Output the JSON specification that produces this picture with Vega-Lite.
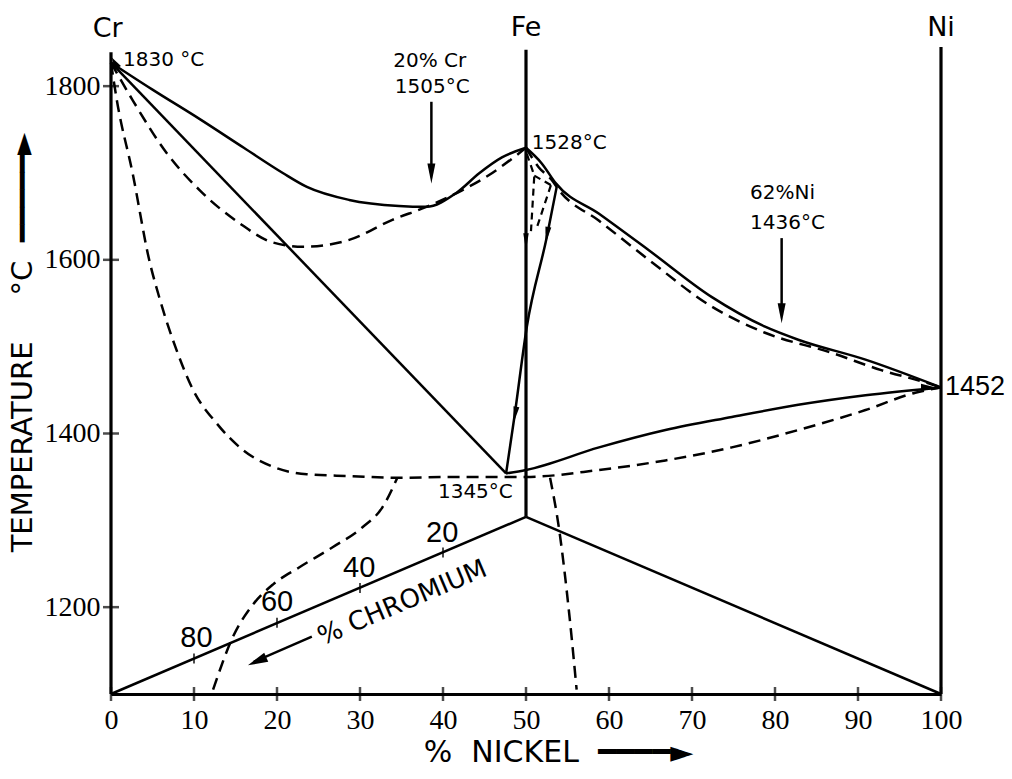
{
  "$schema": "https://vega.github.io/schema/vega-lite/v6.json",
  "width": 830,
  "height": 686,
  "autosize": {"type": "none"},
  "padding": {"left": 111, "top": 8, "right": 71, "bottom": 85},
  "background": "white",
  "config": {"view": {"stroke": null}, "axis": {"grid": false}},
  "datasets": {
    "frame": [
      {"s": "Cr", "i": 1, "x": 0, "t": 1100}, {"s": "Cr", "i": 2, "x": 0, "t": 1839},
      {"s": "Fe", "i": 3, "x": 50, "t": 1304}, {"s": "Fe", "i": 4, "x": 50, "t": 1842},
      {"s": "Ni", "i": 5, "x": 100, "t": 1100}, {"s": "Ni", "i": 6, "x": 100, "t": 1845}
    ],
    "solidLines": [
      {"s": "L4", "i": 1, "x": 0, "t": 1827}, {"s": "L4", "i": 2, "x": 47.6, "t": 1354},
      {"s": "L5", "i": 3, "x": 0, "t": 1100}, {"s": "L5", "i": 4, "x": 50, "t": 1304},
      {"s": "L6", "i": 5, "x": 50, "t": 1304}, {"s": "L6", "i": 6, "x": 100, "t": 1100},
      {"s": "L7", "i": 7, "x": 38.6, "t": 1782}, {"s": "L7", "i": 8, "x": 38.6, "t": 1700},
      {"s": "L8", "i": 9, "x": 80.8, "t": 1625}, {"s": "L8", "i": 10, "x": 80.8, "t": 1537},
      {"s": "L9", "i": 11, "x": 24.2, "t": 1166}, {"s": "L9", "i": 12, "x": 17.2, "t": 1137}
    ],
    "solidCurves": [
      {"s": "C1", "i": 1, "x": 0, "t": 1827}, {"s": "C1", "i": 2, "x": 5, "t": 1796},
      {"s": "C1", "i": 3, "x": 10.7, "t": 1762}, {"s": "C1", "i": 4, "x": 16, "t": 1729},
      {"s": "C1", "i": 5, "x": 20.7, "t": 1700}, {"s": "C1", "i": 6, "x": 23.6, "t": 1684},
      {"s": "C1", "i": 7, "x": 28.7, "t": 1669}, {"s": "C1", "i": 8, "x": 34.7, "t": 1662},
      {"s": "C1", "i": 9, "x": 38.0, "t": 1661}, {"s": "C1", "i": 10, "x": 41.6, "t": 1677},
      {"s": "C1", "i": 11, "x": 44.4, "t": 1700}, {"s": "C1", "i": 12, "x": 47.1, "t": 1718},
      {"s": "C1", "i": 13, "x": 50, "t": 1729},
      {"s": "C2", "i": 14, "x": 50, "t": 1729}, {"s": "C2", "i": 15, "x": 51.9, "t": 1711},
      {"s": "C2", "i": 16, "x": 53.6, "t": 1688},
      {"s": "C2", "i": 18, "x": 58.8, "t": 1653}, {"s": "C2", "i": 19, "x": 64.8, "t": 1611},
      {"s": "C2", "i": 20, "x": 72.4, "t": 1557}, {"s": "C2", "i": 21, "x": 78.8, "t": 1523},
      {"s": "C2", "i": 22, "x": 82.8, "t": 1508}, {"s": "C2", "i": 23, "x": 90.9, "t": 1485},
      {"s": "C2", "i": 24, "x": 100, "t": 1453},
      {"s": "C3", "i": 25, "x": 47.6, "t": 1354}, {"s": "C3", "i": 26, "x": 50, "t": 1358},
      {"s": "C3", "i": 27, "x": 58.8, "t": 1384}, {"s": "C3", "i": 28, "x": 66.8, "t": 1404},
      {"s": "C3", "i": 29, "x": 74.8, "t": 1419}, {"s": "C3", "i": 30, "x": 82.8, "t": 1433},
      {"s": "C3", "i": 31, "x": 90.9, "t": 1444}, {"s": "C3", "i": 32, "x": 100, "t": 1453},
      {"s": "C4", "i": 33, "x": 47.6, "t": 1354}, {"s": "C4", "i": 34, "x": 48.6, "t": 1419},
      {"s": "C4", "i": 35, "x": 50.1, "t": 1523}, {"s": "C4", "i": 36, "x": 52.5, "t": 1626},
      {"s": "C4", "i": 37, "x": 53.7, "t": 1684}
    ],
    "dashCurves": [
      {"s": "D1", "i": 1, "x": 0, "t": 1827}, {"s": "D1", "i": 2, "x": 2.6, "t": 1784},
      {"s": "D1", "i": 3, "x": 6.7, "t": 1723}, {"s": "D1", "i": 4, "x": 10.7, "t": 1680},
      {"s": "D1", "i": 5, "x": 15.5, "t": 1642}, {"s": "D1", "i": 6, "x": 19.5, "t": 1620},
      {"s": "D1", "i": 7, "x": 23.1, "t": 1615}, {"s": "D1", "i": 8, "x": 28.7, "t": 1623},
      {"s": "D1", "i": 9, "x": 33.9, "t": 1646}, {"s": "D1", "i": 10, "x": 38.0, "t": 1661},
      {"s": "D1", "i": 11, "x": 42.3, "t": 1680}, {"s": "D1", "i": 12, "x": 45.6, "t": 1698},
      {"s": "D1", "i": 13, "x": 49.2, "t": 1723}, {"s": "D1", "i": 14, "x": 50, "t": 1729},
      {"s": "D2", "i": 15, "x": 0, "t": 1827}, {"s": "D2", "i": 16, "x": 0.7, "t": 1784},
      {"s": "D2", "i": 17, "x": 2.6, "t": 1700}, {"s": "D2", "i": 18, "x": 4.6, "t": 1600},
      {"s": "D2", "i": 19, "x": 5.9, "t": 1554}, {"s": "D2", "i": 20, "x": 7.9, "t": 1496},
      {"s": "D2", "i": 21, "x": 9.9, "t": 1450}, {"s": "D2", "i": 22, "x": 12.7, "t": 1412},
      {"s": "D2", "i": 23, "x": 15.9, "t": 1381}, {"s": "D2", "i": 24, "x": 20.0, "t": 1360},
      {"s": "D2", "i": 25, "x": 23.6, "t": 1353}, {"s": "D2", "i": 26, "x": 28.7, "t": 1351},
      {"s": "D2", "i": 27, "x": 34.7, "t": 1349}, {"s": "D2", "i": 28, "x": 40.7, "t": 1350},
      {"s": "D2", "i": 29, "x": 47.7, "t": 1350}, {"s": "D2", "i": 30, "x": 50, "t": 1350},
      {"s": "D2", "i": 31, "x": 58.8, "t": 1358}, {"s": "D2", "i": 32, "x": 66.8, "t": 1369},
      {"s": "D2", "i": 33, "x": 74.8, "t": 1384}, {"s": "D2", "i": 34, "x": 82.8, "t": 1404},
      {"s": "D2", "i": 35, "x": 90.9, "t": 1427}, {"s": "D2", "i": 36, "x": 96.9, "t": 1447},
      {"s": "D2", "i": 37, "x": 100, "t": 1453},
      {"s": "D3", "i": 38, "x": 12.3, "t": 1105}, {"s": "D3", "i": 39, "x": 14.7, "t": 1166},
      {"s": "D3", "i": 40, "x": 17.1, "t": 1203}, {"s": "D3", "i": 41, "x": 19.5, "t": 1226},
      {"s": "D3", "i": 42, "x": 22.7, "t": 1246}, {"s": "D3", "i": 43, "x": 26.7, "t": 1269},
      {"s": "D3", "i": 44, "x": 30.3, "t": 1292}, {"s": "D3", "i": 45, "x": 32.7, "t": 1315},
      {"s": "D3", "i": 46, "x": 34.5, "t": 1349},
      {"s": "D4", "i": 48, "x": 52.9, "t": 1349}, {"s": "D4", "i": 49, "x": 54.0, "t": 1289},
      {"s": "D4", "i": 50, "x": 55.2, "t": 1193}, {"s": "D4", "i": 51, "x": 56.1, "t": 1105},
      {"s": "D5", "i": 52, "x": 50, "t": 1729}, {"s": "D5", "i": 53, "x": 51.5, "t": 1707},
      {"s": "D5", "i": 54, "x": 53.1, "t": 1692}, {"s": "D5", "i": 55, "x": 54.0, "t": 1680},
      {"s": "D5", "i": 56, "x": 58.8, "t": 1645}, {"s": "D5", "i": 57, "x": 64.8, "t": 1600},
      {"s": "D5", "i": 58, "x": 72.4, "t": 1546}, {"s": "D5", "i": 59, "x": 78.8, "t": 1516},
      {"s": "D5", "i": 60, "x": 86.8, "t": 1493}, {"s": "D5", "i": 61, "x": 92.8, "t": 1473},
      {"s": "D5", "i": 62, "x": 98.4, "t": 1458}, {"s": "D5", "i": 63, "x": 100, "t": 1453}
    ],
    "dashLines": [
      {"s": "E1", "i": 1, "x": 50.1, "t": 1722}, {"s": "E1", "i": 2, "x": 51.0, "t": 1697},
      {"s": "E1", "i": 3, "x": 50.6, "t": 1633},
      {"s": "E2", "i": 4, "x": 53.0, "t": 1686}, {"s": "E2", "i": 5, "x": 51.2, "t": 1634},
      {"s": "E3", "i": 6, "x": 51.0, "t": 1697}, {"s": "E3", "i": 7, "x": 53.0, "t": 1686}
    ],
    "xticks": [
      {"x": 0, "t": 1100}, {"x": 10, "t": 1100}, {"x": 20, "t": 1100}, {"x": 30, "t": 1100},
      {"x": 40, "t": 1100}, {"x": 50, "t": 1100}, {"x": 60, "t": 1100}, {"x": 70, "t": 1100},
      {"x": 80, "t": 1100}, {"x": 90, "t": 1100}, {"x": 100, "t": 1100}
    ],
    "yticks": [
      {"x": 0, "t": 1200}, {"x": 0, "t": 1400}, {"x": 0, "t": 1600}, {"x": 0, "t": 1800}
    ],
    "cticks": [
      {"x": 10, "t": 1141}, {"x": 20, "t": 1182}, {"x": 30, "t": 1222}, {"x": 40, "t": 1263}
    ],
    "labelsCenter": [
      {"x": 38.4, "t": 1829, "label": "20% Cr"},
      {"x": 38.7, "t": 1799, "label": "1505°C"},
      {"x": 80.9, "t": 1677, "label": "62%Ni"},
      {"x": 81.5, "t": 1642, "label": "1436°C"},
      {"x": 43.9, "t": 1333, "label": "1345°C"}
    ],
    "labelsLeft": [
      {"x": 1.44, "t": 1830, "label": "1830 °C"},
      {"x": 50.7, "t": 1734, "label": "1528°C"}
    ],
    "elements": [
      {"x": -0.4, "t": 1866, "label": "Cr"},
      {"x": 50, "t": 1867, "label": "Fe"},
      {"x": 100, "t": 1867, "label": "Ni"}
    ],
    "niLabel": [{"x": 100, "t": 1453, "label": "1452"}],
    "chromNumbers": [
      {"x": 10.3, "t": 1165, "label": "80"},
      {"x": 20.0, "t": 1206, "label": "60"},
      {"x": 29.9, "t": 1245, "label": "40"},
      {"x": 39.9, "t": 1285, "label": "20"}
    ],
    "chromTitle": [{"x": 35.1, "t": 1205, "label": "% CHROMIUM"}],
    "arrowsDown": [
      {"x": 38.6, "t": 1688}, {"x": 80.8, "t": 1527}
    ],
    "arrowFe": [{"x": 50, "t": 1611}],
    "arrowsSlope": [{"x": 52.35, "t": 1619}, {"x": 48.5, "t": 1412}],
    "arrowChrom": [{"x": 16.5, "t": 1133}],
    "arrowNi": [{"x": 99.4, "t": 1453}],
    "arrowCr": [{"x": 0.1, "t": 1833}]
  },
  "encoding": {
    "x": {
      "field": "x", "type": "quantitative",
      "scale": {"domain": [0, 100], "nice": false, "zero": false},
      "axis": {
        "values": [0, 10, 20, 30, 40, 50, 60, 70, 80, 90, 100],
        "format": "d",
        "title": "%\u00a0\u00a0NICKEL\u00a0\u00a0━━━━►",
        "ticks": false,
        "domain": true, "domainColor": "black", "domainWidth": 3,
        "labelFont": "Liberation Sans Narrow", "labelFontSize": 28, "labelColor": "black",
        "labelPadding": 12, "labelFlush": false, "labelOverlap": false,
        "titleFont": "DejaVu Sans", "titleFontSize": 30, "titleFontWeight": "normal", "titleColor": "black",
        "titleX": 447, "titleY": 58, "titleBaseline": "middle", "titleAlign": "center"
      }
    },
    "y": {
      "field": "t", "type": "quantitative",
      "scale": {"domain": [1100, 1890], "nice": false, "zero": false},
      "axis": {
        "values": [1200, 1400, 1600, 1800],
        "format": "d",
        "title": "TEMPERATURE\u00a0\u00a0\u00a0\u00a0\u00a0°C\u00a0\u00a0━━━━━►",
        "ticks": false, "domain": false,
        "labelFont": "Liberation Sans Narrow", "labelFontSize": 28, "labelColor": "black",
        "labelPadding": 11,
        "titleFont": "DejaVu Sans", "titleFontSize": 29, "titleFontWeight": "normal", "titleColor": "black",
        "titleX": -89, "titleY": 334, "titleBaseline": "middle", "titleAlign": "center", "titleAngle": 270
      }
    }
  },
  "layer": [
    {
      "data": {"name": "frame"},
      "mark": {"type": "line", "color": "black", "strokeWidth": 3.2, "interpolate": "linear"},
      "encoding": {"detail": {"field": "s"}, "order": {"field": "i"}}
    },
    {
      "data": {"name": "solidLines"},
      "mark": {"type": "line", "color": "black", "strokeWidth": 2.5, "interpolate": "linear"},
      "encoding": {"detail": {"field": "s"}, "order": {"field": "i"}}
    },
    {
      "data": {"name": "solidCurves"},
      "mark": {"type": "line", "color": "black", "strokeWidth": 2.5, "interpolate": "monotone"},
      "encoding": {"detail": {"field": "s"}, "order": {"field": "i"}}
    },
    {
      "data": {"name": "dashCurves"},
      "mark": {"type": "line", "color": "black", "strokeWidth": 2.5, "interpolate": "monotone", "strokeDash": [12, 7]},
      "encoding": {"detail": {"field": "s"}, "order": {"field": "i"}}
    },
    {
      "data": {"name": "dashLines"},
      "mark": {"type": "line", "color": "black", "strokeWidth": 2.2, "interpolate": "linear", "strokeDash": [7, 5]},
      "encoding": {"detail": {"field": "s"}, "order": {"field": "i"}}
    },
    {
      "data": {"name": "xticks"},
      "mark": {"type": "tick", "orient": "vertical", "color": "black", "size": 14, "thickness": 2.5}
    },
    {
      "data": {"name": "yticks"},
      "mark": {"type": "tick", "orient": "horizontal", "color": "black", "size": 16, "thickness": 2.5}
    },
    {
      "data": {"name": "cticks"},
      "mark": {"type": "tick", "orient": "vertical", "color": "black", "size": 10, "thickness": 2}
    },
    {
      "data": {"name": "arrowsDown"},
      "mark": {"type": "point", "shape": "M-0.2,-1L0.2,-1L0,0Z", "size": 1600, "filled": true, "color": "black", "opacity": 1, "strokeWidth": 0}
    },
    {
      "data": {"name": "arrowFe"},
      "mark": {"type": "point", "shape": "M-0.16,-1L0.16,-1L0,0Z", "size": 1156, "filled": true, "color": "black", "opacity": 1, "strokeWidth": 0}
    },
    {
      "data": {"name": "arrowsSlope"},
      "mark": {"type": "point", "shape": "M-0.18,-1L0.18,-1L0,0Z", "size": 1100, "angle": 10, "filled": true, "color": "black", "opacity": 1, "strokeWidth": 0}
    },
    {
      "data": {"name": "arrowChrom"},
      "mark": {"type": "point", "shape": "M-0.25,-1L0.25,-1L0,0Z", "size": 1600, "angle": 66, "filled": true, "color": "black", "opacity": 1, "strokeWidth": 0}
    },
    {
      "data": {"name": "arrowNi"},
      "mark": {"type": "point", "shape": "M-0.25,-1L0.25,-1L0,0Z", "size": 900, "angle": -90, "filled": true, "color": "black", "opacity": 1, "strokeWidth": 0}
    },
    {
      "data": {"name": "arrowCr"},
      "mark": {"type": "point", "shape": "M-0.3,-1L0.3,-1L0,0Z", "size": 576, "angle": 150, "filled": true, "color": "black", "opacity": 1, "strokeWidth": 0}
    },
    {
      "data": {"name": "labelsCenter"},
      "mark": {"type": "text", "font": "DejaVu Sans", "fontSize": 20, "color": "black", "align": "center", "baseline": "middle"},
      "encoding": {"text": {"field": "label"}}
    },
    {
      "data": {"name": "labelsLeft"},
      "mark": {"type": "text", "font": "DejaVu Sans", "fontSize": 20, "color": "black", "align": "left", "baseline": "middle"},
      "encoding": {"text": {"field": "label"}}
    },
    {
      "data": {"name": "elements"},
      "mark": {"type": "text", "font": "DejaVu Sans", "fontSize": 27, "color": "black", "align": "center", "baseline": "middle"},
      "encoding": {"text": {"field": "label"}}
    },
    {
      "data": {"name": "niLabel"},
      "mark": {"type": "text", "font": "Liberation Sans", "fontSize": 27, "color": "black", "align": "left", "baseline": "middle", "dx": 4},
      "encoding": {"text": {"field": "label"}}
    },
    {
      "data": {"name": "chromNumbers"},
      "mark": {"type": "text", "font": "Liberation Sans", "fontSize": 29, "color": "black", "align": "center", "baseline": "middle"},
      "encoding": {"text": {"field": "label"}}
    },
    {
      "data": {"name": "chromTitle"},
      "mark": {"type": "text", "font": "DejaVu Sans", "fontSize": 26, "color": "black", "align": "center", "baseline": "middle", "angle": -23},
      "encoding": {"text": {"field": "label"}}
    }
  ]
}
